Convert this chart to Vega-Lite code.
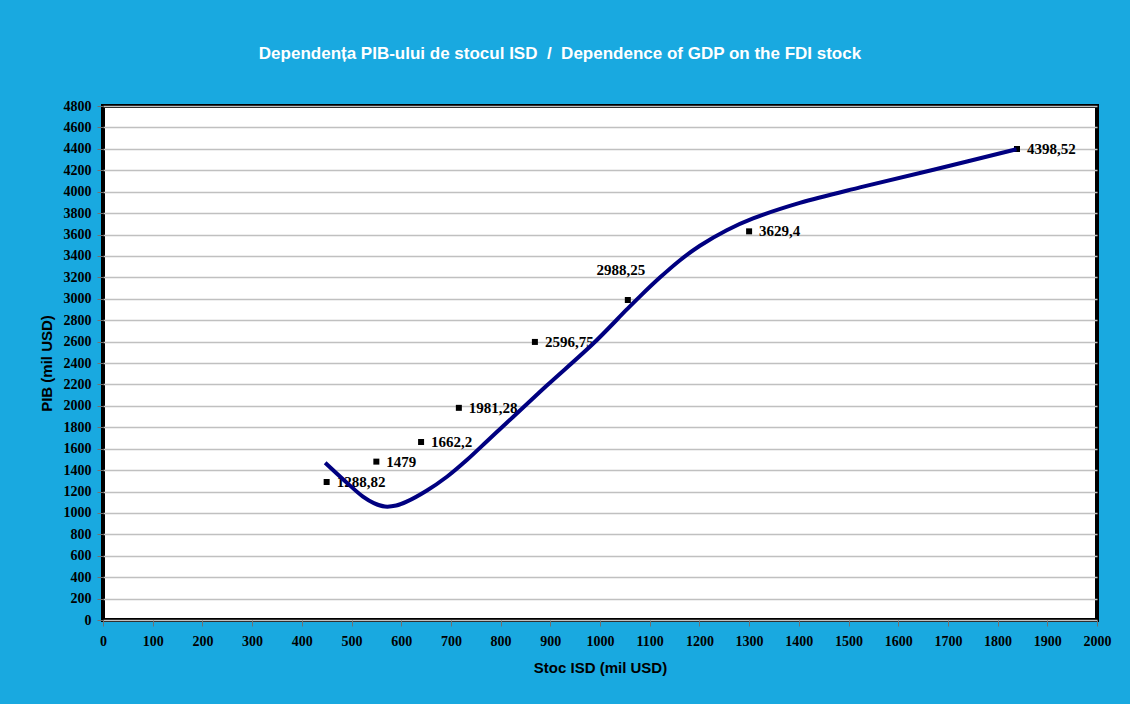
{
  "$schema": "https://vega.github.io/schema/vega-lite/v6.json",
  "width": 994,
  "height": 514,
  "autosize": {"type": "none"},
  "padding": {"left": 103, "top": 106, "right": 33, "bottom": 84},
  "background": "#19a9e0",
  "config": {
    "locale": {"number": {"decimal": ",", "thousands": "", "grouping": [3], "currency": ["", ""]}},
    "view": {"fill": "white", "stroke": "black", "strokeWidth": 4},
    "axis": {
      "labelFont": "Liberation Serif",
      "labelFontWeight": "bold",
      "labelFontSize": 14,
      "labelColor": "black",
      "labelFlush": false,
      "titleFont": "Liberation Sans",
      "titleFontWeight": "bold",
      "titleFontSize": 15,
      "titleColor": "black",
      "tickColor": "#707070",
      "tickSize": 6,
      "domain": false
    }
  },
  "title": {
    "text": "Dependența PIB-ului de stocul ISD \u00a0/\u00a0 Dependence of GDP on the FDI stock",
    "color": "white",
    "font": "Liberation Sans",
    "fontSize": 17,
    "fontWeight": "bold",
    "anchor": "middle",
    "dx": -40,
    "offset": 36
  },
  "datasets": {
    "points": [
      {"isd": 450, "pib": 1288.82},
      {"isd": 550, "pib": 1479},
      {"isd": 640, "pib": 1662.2},
      {"isd": 716, "pib": 1981.28},
      {"isd": 869, "pib": 2596.75},
      {"isd": 1056, "pib": 2988.25},
      {"isd": 1300, "pib": 3629.4},
      {"isd": 1839, "pib": 4398.52}
    ],
    "trend": [
      {"isd": 447, "pib": 1469},
      {"isd": 490, "pib": 1285},
      {"isd": 523, "pib": 1152},
      {"isd": 545, "pib": 1092},
      {"isd": 567, "pib": 1060},
      {"isd": 590, "pib": 1069},
      {"isd": 611, "pib": 1105},
      {"isd": 651, "pib": 1207},
      {"isd": 692, "pib": 1338},
      {"isd": 732, "pib": 1494},
      {"isd": 772, "pib": 1667},
      {"isd": 799, "pib": 1784},
      {"isd": 825, "pib": 1896},
      {"isd": 893, "pib": 2189},
      {"isd": 987, "pib": 2584},
      {"isd": 1054, "pib": 2900},
      {"isd": 1080, "pib": 3020},
      {"isd": 1121, "pib": 3200},
      {"isd": 1161, "pib": 3360},
      {"isd": 1201, "pib": 3495},
      {"isd": 1255, "pib": 3640},
      {"isd": 1308, "pib": 3750},
      {"isd": 1402, "pib": 3895},
      {"isd": 1523, "pib": 4040},
      {"isd": 1671, "pib": 4205},
      {"isd": 1838, "pib": 4396}
    ]
  },
  "encoding": {
    "x": {
      "field": "isd",
      "type": "quantitative",
      "scale": {"domain": [0, 2000], "nice": false},
      "axis": {"title": "Stoc ISD (mil USD)", "tickCount": 20, "format": "d", "grid": false, "labelPadding": 8, "titlePadding": 12}
    },
    "y": {
      "field": "pib",
      "type": "quantitative",
      "scale": {"domain": [0, 4800], "nice": false},
      "axis": {"title": "PIB (mil USD)", "tickCount": 24, "format": "d", "grid": true, "gridColor": "#c0c0c0", "gridWidth": 1.5, "labelPadding": 6, "titlePadding": 9}
    }
  },
  "layer": [
    {
      "data": {"name": "points"},
      "mark": {"type": "point", "shape": "square", "filled": true, "color": "black", "size": 36, "opacity": 1}
    },
    {
      "data": {"name": "points"},
      "transform": [{"filter": "datum.pib != 2988.25"}],
      "mark": {"type": "text", "align": "left", "baseline": "middle", "dx": 10, "font": "Liberation Serif", "fontWeight": "bold", "fontSize": 15, "color": "black"},
      "encoding": {"text": {"field": "pib", "type": "quantitative", "format": "~f"}}
    },
    {
      "data": {"name": "points"},
      "transform": [{"filter": "datum.pib == 2988.25"}],
      "mark": {"type": "text", "align": "center", "baseline": "middle", "dx": -7, "dy": -30, "font": "Liberation Serif", "fontWeight": "bold", "fontSize": 15, "color": "black"},
      "encoding": {"text": {"field": "pib", "type": "quantitative", "format": "~f"}}
    },
    {
      "data": {"name": "trend"},
      "mark": {"type": "line", "interpolate": "catmull-rom", "color": "#000080", "strokeWidth": 4},
      "encoding": {}
    }
  ]
}
